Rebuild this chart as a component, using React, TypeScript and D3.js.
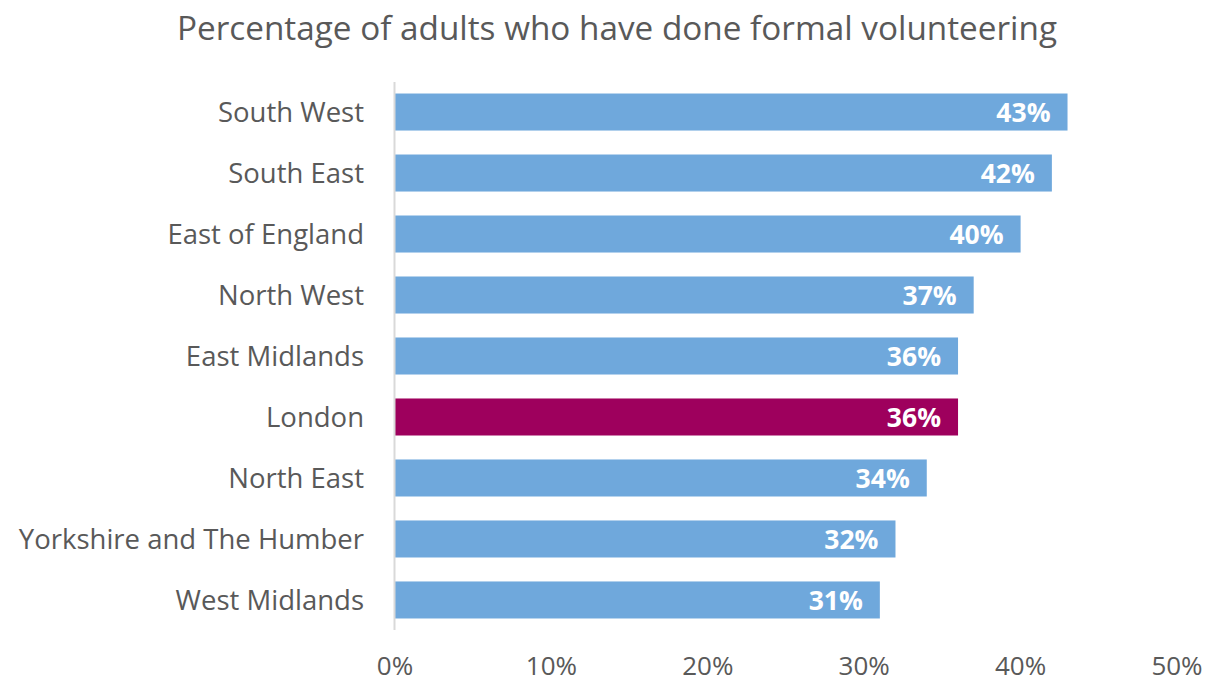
import React from "react";
import * as d3 from "d3";

const categories = [
  "South West",
  "South East",
  "East of England",
  "North West",
  "East Midlands",
  "London",
  "North East",
  "Yorkshire and The Humber",
  "West Midlands",
];
const values = [43, 42, 40, 37, 36, 36, 34, 32, 31];
const highlight = "London";
const ticks = [0, 10, 20, 30, 40, 50];
const title = "Percentage of adults who have done formal volunteering";

const W = 1211;
const H = 682;
const FONT = "'Open Sans', sans-serif";

export default function App() {
  const x = d3.scaleLinear().domain([0, 50]).range([395, 1177]);
  const y = d3
    .scaleBand<string>()
    .domain(categories)
    .range([81.5, 630.5])
    .paddingInner(0.393)
    .paddingOuter(0.197);

  return (
    <svg width={W} height={H} style={{ position: "absolute", left: 0, top: 0 }}>
      <rect width={W} height={H} fill="#fff" />
      <text
        x={617}
        y={40}
        textAnchor="middle"
        fontFamily={FONT}
        fontSize={33.3}
        fill="#595959"
      >
        {title}
      </text>
      {categories.map((c, i) => {
        const v = values[i];
        const yy = y(c)!;
        const bw = y.bandwidth();
        return (
          <g key={c}>
            <rect
              x={x(0)}
              y={yy}
              width={x(v) - x(0)}
              height={bw}
              fill={c === highlight ? "#9e005d" : "#6fa8dc"}
            />
            <text
              x={x(v) - 17}
              y={yy + bw / 2}
              dy="0.36em"
              textAnchor="end"
              fontFamily={FONT}
              fontWeight={700}
              fontSize={26.5}
              fill="#fff"
            >
              {v}%
            </text>
            <text
              x={364}
              y={yy + bw / 2}
              dy="0.36em"
              textAnchor="end"
              fontFamily={FONT}
              fontSize={27.5}
              fill="#595959"
            >
              {c}
            </text>
          </g>
        );
      })}
      <line x1={394.5} x2={394.5} y1={82} y2={630} stroke="#d9d9d9" strokeWidth={2} />
      {ticks.map((t) => (
        <text
          key={t}
          x={x(t)}
          y={675}
          textAnchor="middle"
          fontFamily={FONT}
          fontSize={26}
          fill="#595959"
        >
          {t}%
        </text>
      ))}
    </svg>
  );
}
